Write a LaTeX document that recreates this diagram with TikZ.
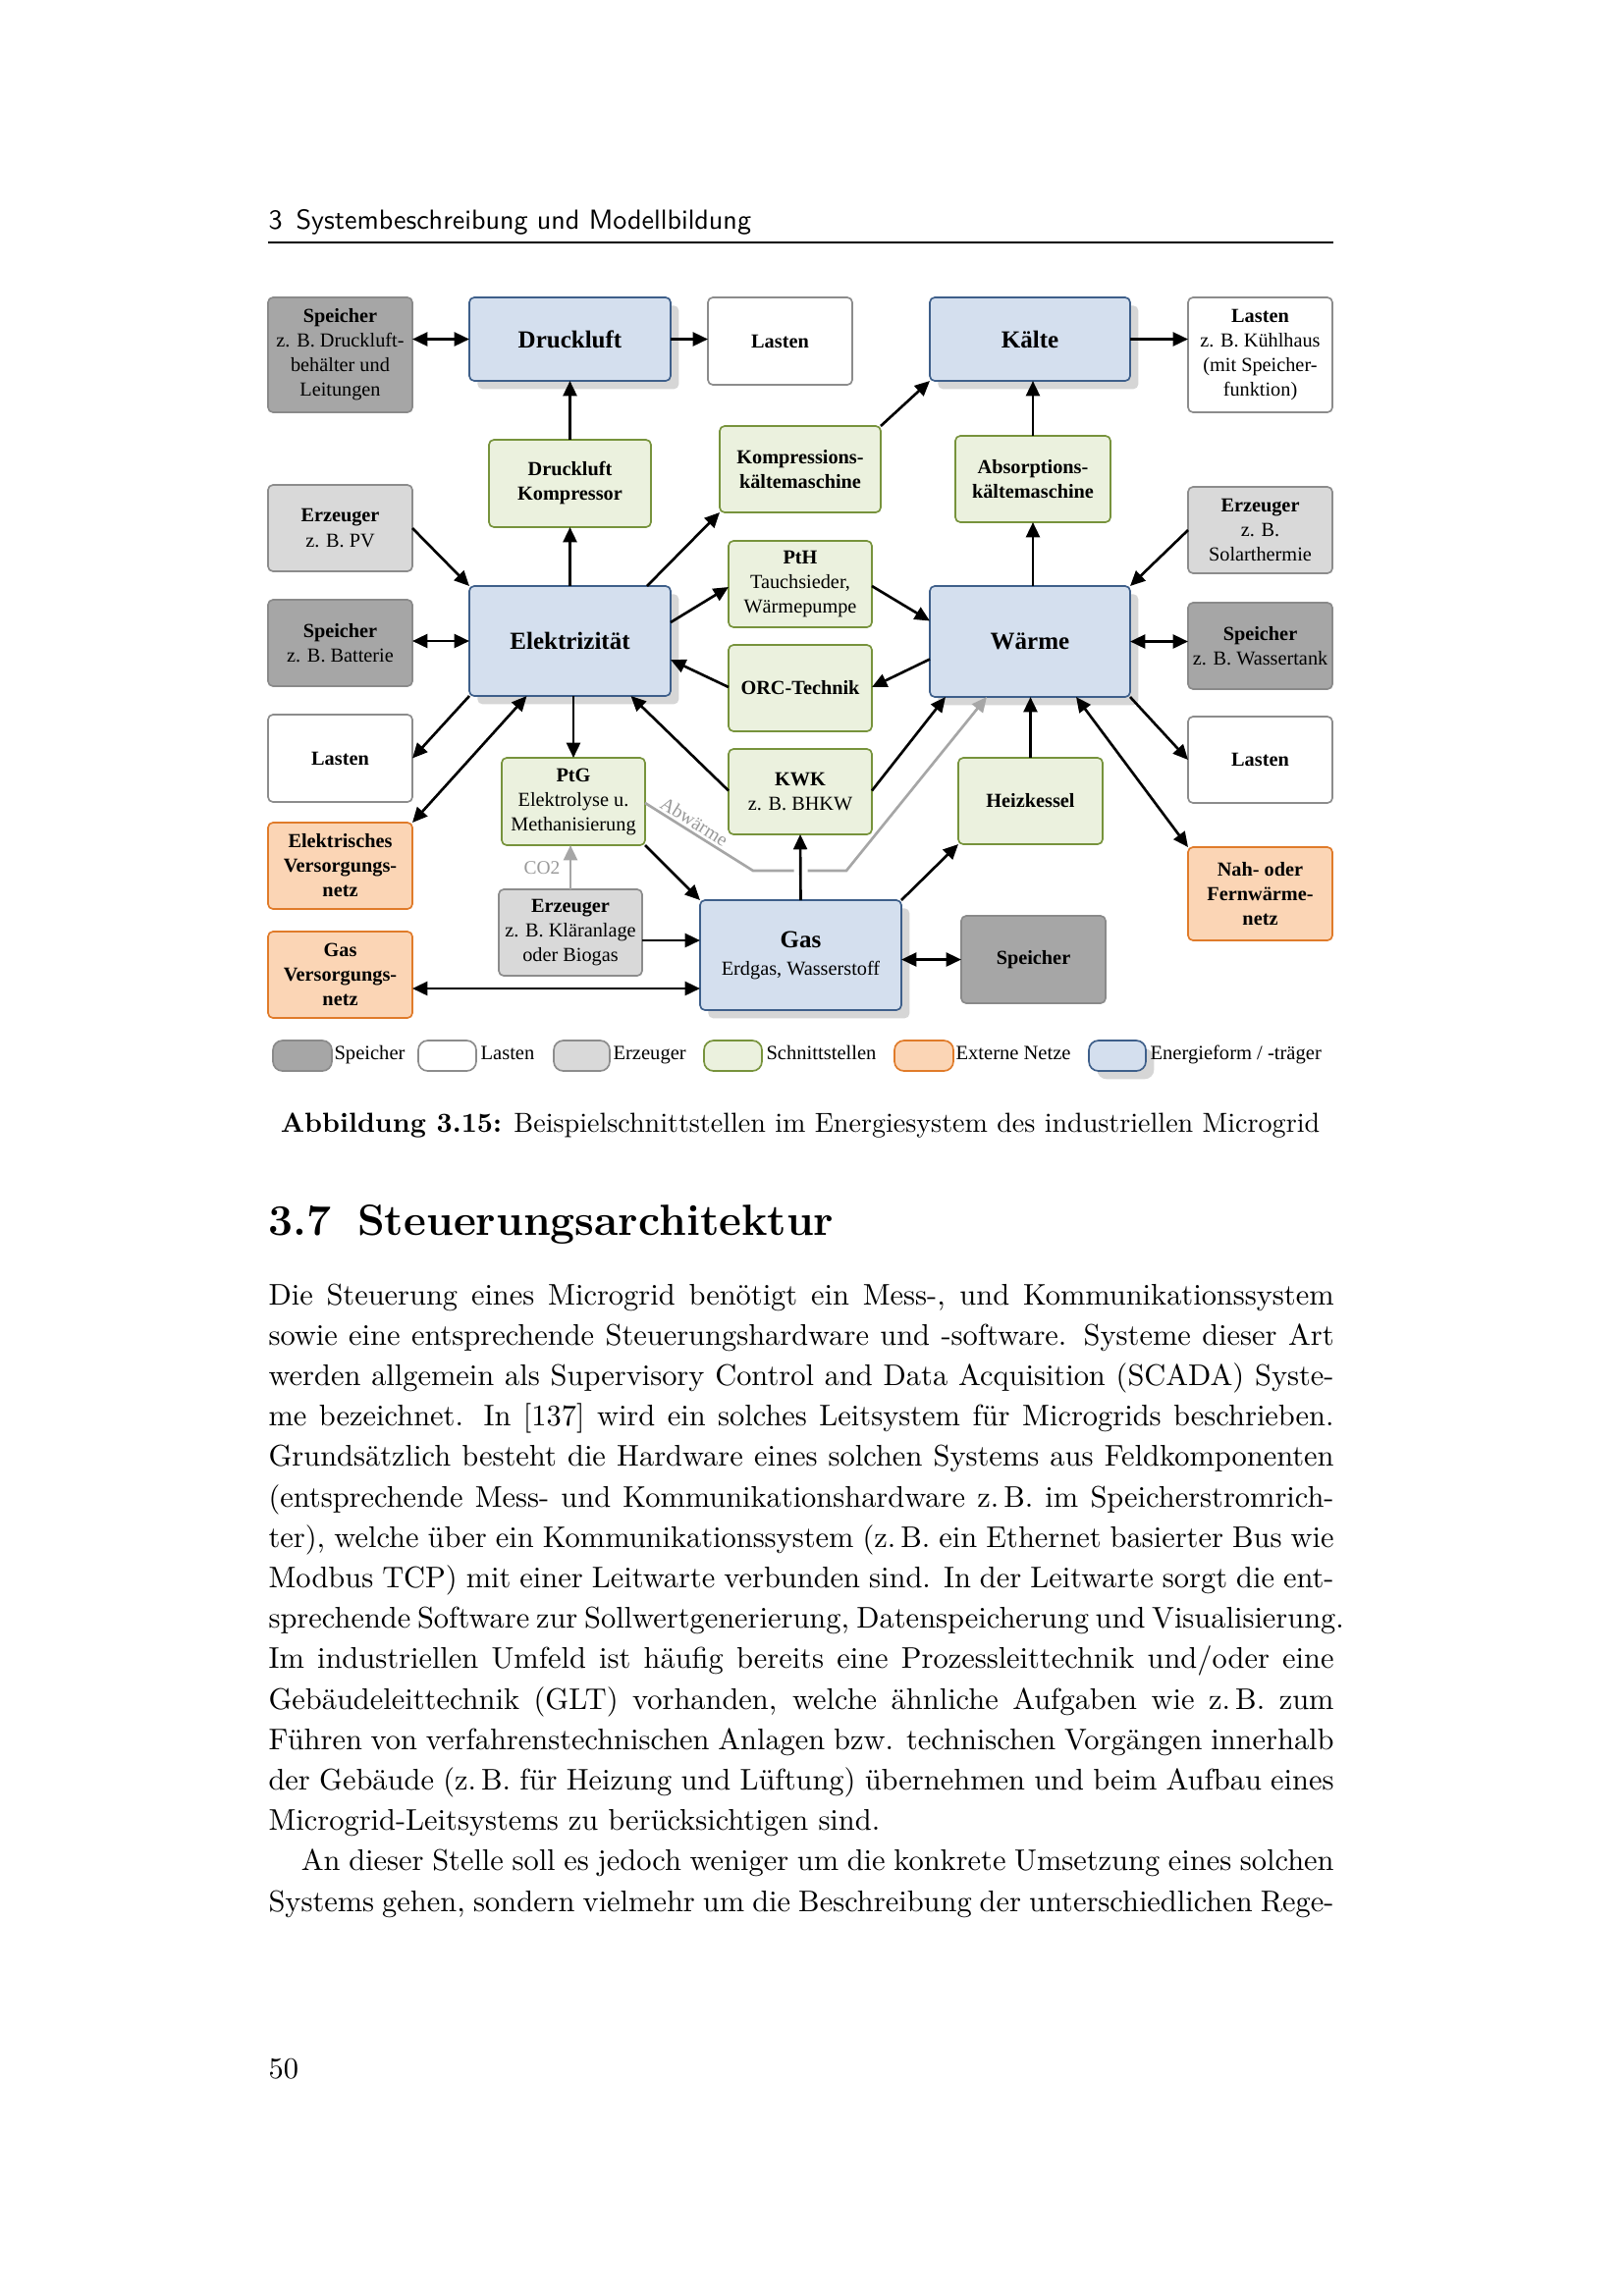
\documentclass[tikz,border=0pt]{standalone}
\usepackage{fontspec}
\newfontfamily\tnr{Liberation Serif}
\usetikzlibrary{arrows.meta,calc,shadows}
\definecolor{spfill}{HTML}{A6A6A6}
\definecolor{spdraw}{HTML}{8A8A8A}
\definecolor{erfill}{HTML}{D9D9D9}
\definecolor{erdraw}{HTML}{8C8C8C}
\definecolor{ladraw}{HTML}{8C8C8C}
\definecolor{scfill}{HTML}{EBF1DE}
\definecolor{scdraw}{HTML}{77933C}
\definecolor{exfill}{HTML}{FBD5B5}
\definecolor{exdraw}{HTML}{E07B2A}
\definecolor{enfill}{HTML}{D4DFEE}
\definecolor{endraw}{HTML}{3E5F8A}
\definecolor{shgray}{HTML}{D6D6D6}
\definecolor{garrow}{HTML}{A6A6A6}
\definecolor{glabel}{HTML}{999999}
\newcommand\nodebox[7]{\node[#6, minimum width={(#4-#2)*0.3599pt}, minimum height={(#5-#3)*0.3599pt}] (#1) at ({(#2+#4)/2},{(#3+#5)/2}) {#7};}
\tikzset{
  box/.style={rounded corners=1.8pt, draw, line width=0.6pt, align=center, inner sep=0pt, outer sep=0pt, font=\tnr\fontsize{7.3}{9}\selectfont},
  speicher/.style={box, fill=spfill, draw=spdraw},
  last/.style={box, fill=white, draw=ladraw},
  erz/.style={box, fill=erfill, draw=erdraw},
  schnitt/.style={box, fill=scfill, draw=scdraw},
  extern/.style={box, fill=exfill, draw=exdraw},
  energie/.style={box, fill=enfill, draw=endraw, font=\tnr\bfseries\fontsize{9}{11}\selectfont, drop shadow={fill=shgray, opacity=1, shadow xshift=3pt, shadow yshift=-3pt}},
  legend/.style={rounded corners=3.5pt},
  legtext/.style={anchor=base west, inner sep=0pt, font=\tnr\fontsize{7.4}{9}\selectfont},
  arr/.style={-{Triangle[length=5.5pt,width=5pt]}, line width=0.95pt},
  darr/.style={{Triangle[length=5.5pt,width=5pt]}-{Triangle[length=5.5pt,width=5pt]}, line width=0.95pt},
  gline/.style={line width=0.95pt, draw=garrow},
  garr/.style={arr, draw=garrow},
  graylabel/.style={inner sep=0pt, text=glabel, font=\tnr\fontsize{7}{8}\selectfont},
  bodytext/.style={anchor=base west, inner sep=0pt, font=\fontsize{10.95}{14.9}\selectfont},
}
\begin{document}
\begin{tikzpicture}[x=0.3599pt, y=-0.3599pt]
\useasboundingbox (0,0) rectangle (1654,2339);
\fill[white] (0,0) rectangle (1654,2339);

% running head
\node[anchor=base west, inner sep=0pt, font=\sffamily\fontsize{10.1}{12}\selectfont] (head) at (273,233) {3\hspace{0.5em}Systembeschreibung und Modellbildung};
\draw[line width=0.6pt] (273,247) -- (1358,247);

% boxes
\nodebox{spd}{273}{303}{420}{420}{speicher}{\textbf{Speicher}\\z. B. Druckluft-\\behälter und\\Leitungen}
\nodebox{dl}{478}{303}{683}{388}{energie}{Druckluft}
\nodebox{lt}{721}{303}{868}{392}{last}{\textbf{Lasten}}
\nodebox{kae}{947}{303}{1151}{388}{energie}{Kälte}
\nodebox{lkh}{1210}{303}{1357}{420}{last}{\textbf{Lasten}\\z. B. Kühlhaus\\(mit Speicher-\\funktion)}
\nodebox{dk}{498}{448}{663}{537}{schnitt}{\textbf{Druckluft}\\\textbf{Kompressor}}
\nodebox{kkm}{733}{434}{897}{522}{schnitt}{\textbf{Kompressions-}\\\textbf{kältemaschine}}
\nodebox{akm}{973}{444}{1131}{532}{schnitt}{\textbf{Absorptions-}\\\textbf{kältemaschine}}
\nodebox{epv}{273}{494}{420}{582}{erz}{\textbf{Erzeuger}\\z. B. PV}
\nodebox{est}{1210}{496}{1357}{584}{erz}{\textbf{Erzeuger}\\z. B.\\Solarthermie}
\nodebox{pth}{742}{551}{888}{639}{schnitt}{\textbf{PtH}\\Tauchsieder,\\Wärmepumpe}
\nodebox{el}{478}{597}{683}{709}{energie}{Elektrizität}
\nodebox{wa}{947}{597}{1151}{710}{energie}{Wärme}
\nodebox{spb}{273}{611}{420}{699}{speicher}{\textbf{Speicher}\\z. B. Batterie}
\nodebox{spw}{1210}{614}{1357}{702}{speicher}{\textbf{Speicher}\\z. B. Wassertank}
\nodebox{orc}{742}{657}{888}{745}{schnitt}{\textbf{ORC-Technik}}
\nodebox{ll}{273}{728}{420}{817}{last}{\textbf{Lasten}}
\nodebox{lr}{1210}{730}{1357}{818}{last}{\textbf{Lasten}}
\nodebox{kwk}{742}{763}{888}{850}{schnitt}{\textbf{KWK}\\z. B. BHKW}
\nodebox{ptg}{511}{772}{657}{861}{schnitt}{\textbf{PtG}\\Elektrolyse u.\\Methanisierung}
\nodebox{hk}{976}{772}{1123}{860}{schnitt}{\textbf{Heizkessel}}
\nodebox{ev}{273}{838}{420}{926}{extern}{\textbf{Elektrisches}\\\textbf{Versorgungs-}\\\textbf{netz}}
\nodebox{nf}{1210}{863}{1357}{958}{extern}{\textbf{Nah- oder}\\\textbf{Fernwärme-}\\\textbf{netz}}
\nodebox{ek}{508}{906}{654}{994}{erz}{\textbf{Erzeuger}\\z. B. Kläranlage\\oder Biogas}
\nodebox{gas}{713}{917}{918}{1029}{energie}{Gas\\[-1pt]{\mdseries\fontsize{7.3}{9}\selectfont Erdgas, Wasserstoff}}
\nodebox{spg}{979}{933}{1126}{1022}{speicher}{\textbf{Speicher}}
\nodebox{gv}{273}{949}{420}{1037}{extern}{\textbf{Gas}\\\textbf{Versorgungs-}\\\textbf{netz}}

% connectors
\draw[darr] (spd.east |- dl.west) -- (dl.west);
\draw[arr] (dl.east) -- (lt.west |- dl.east);
\draw[arr] (dk.north) -- (dl.south);
\draw[arr] (el.north) -- (dk.south);
\draw[arr] (epv.east) -- (el.north west);
\draw[darr] (spb.east |- el.west) -- (el.west);
\draw[arr] ($(el.north east)+(-24,0)$) -- (kkm.south west);
\draw[arr] ($(el.east)+(0,-19)$) -- ($(pth.west)+(0,3)$);
\draw[arr] ($(orc.west)+(0,-1)$) -- ($(el.east)+(0,19)$);
\draw[arr] ($(pth.east)+(0,2)$) -- ($(wa.west)+(0,-21)$);
\draw[arr] ($(wa.west)+(0,18)$) -- ($(orc.east)+(0,-1)$);
\draw[arr] (kkm.north east) -- (kae.south west);
\draw[arr] (akm.north) -- (akm.north |- kae.south);
\draw[arr] (wa.north -| akm.south) -- (akm.south);
\draw[arr] (kae.east) -- (lkh.west |- kae.east);
\draw[arr] (est.west) -- (wa.north east);
\draw[darr] (wa.east) -- (spw.west |- wa.east);
\draw[arr] (el.south west) -- (ll.east);
\draw[darr] (ev.north east) -- ($(el.south)+(-44,0)$);
\draw[arr] (ptg.north |- el.south) -- (ptg.north);
\draw[arr] ($(kwk.west)+(0,-1)$) -- ($(el.south)+(62,0)$);
\draw[arr] (ptg.south east) -- (gas.north west);
\coordinate (ekout) at ($(ek.east)+(0,8)$);
\draw[arr] (ekout) -- (gas.west |- ekout);
\coordinate (gvout) at ($(gv.east)+(0,14)$);
\draw[darr] (gvout) -- (gas.west |- gvout);
\draw[garr] (ek.north) -- (ek.north |- ptg.south);
\node[graylabel] (co2) at ($(ek.north)+(-29,-22)$) {CO2};
% Abwaerme line
\coordinate (a1) at ($(ptg.east)+(0,1.5)$);
\coordinate (a2) at (767,887);
\coordinate (a5) at (862,887);
\coordinate (a6) at ($(wa.south)+(-44,0)$);
\draw[gline] (a1) -- (a2) -- ($(gas.north |- a2)+(-7,0)$);
\draw[garr] ($(gas.north |- a2)+(7,0)$) -- (a5) -- (a6);
\node[graylabel, rotate=-32] (abw) at ($(a1)!0.42!(a2)+(4,-10)$) {Abwärme};
\draw[arr] (gas.north) -- (kwk.south);
\draw[arr] ($(kwk.east)+(0,-1)$) -- ($(wa.south west)+(16,0)$);
\draw[arr] (gas.north east) -- (hk.south west);
\draw[arr] (hk.north) -- (hk.north |- wa.south);
\draw[darr] ($(wa.south)+(47,0)$) -- (nf.north west);
\draw[arr] (wa.south east) -- (lr.west);
\draw[darr] (gas.east |- spg.west) -- (spg.west);

% legend
\nodebox{lg1}{278}{1060}{338}{1091}{speicher,legend}{}
\node[legtext] (lt1) at (340,1079) {Speicher};
\nodebox{lg2}{426}{1060}{485}{1091}{last,legend}{}
\node[legtext] (lt2) at (489,1079) {Lasten};
\nodebox{lg3}{564}{1060}{621}{1091}{erz,legend}{}
\node[legtext] (lt3) at (624,1079) {Erzeuger};
\nodebox{lg4}{717}{1060}{776}{1091}{schnitt,legend}{}
\node[legtext] (lt4) at (780,1079) {Schnittstellen};
\nodebox{lg5}{911}{1060}{971}{1091}{extern,legend}{}
\node[legtext] (lt5) at (973,1079) {Externe Netze};
\nodebox{lg6}{1109}{1060}{1167}{1091}{energie,legend}{}
\node[legtext] (lt6) at (1171,1079) {Energieform / -träger};

% caption
\node[anchor=base, inner sep=0pt, font=\fontsize{10.1}{12}\selectfont] (cap) at (815,1153) {\textbf{Abbildung 3.15:} Beispielschnittstellen im Energiesystem des industriellen Microgrid};

% section
\node[anchor=base west, inner sep=0pt, font=\fontsize{16}{19}\selectfont\bfseries] (sec) at (273,1258) {3.7\hspace{0.6em}Steuerungsarchitektur};

% body text
\node[bodytext] (b1) at (273,1329.0) {\hbox to 390.5pt{Die Steuerung eines Microgrid benötigt ein Mess-, und Kommunikationssystem}};
\node[bodytext] (b2) at (273,1370.2) {\hbox to 390.5pt{sowie eine entsprechende Steuerungshardware und -software. Systeme dieser Art}};
\node[bodytext] (b3) at (273,1411.4) {\hbox to 390.5pt{werden allgemein als Supervisory Control and Data Acquisition (SCADA) Syste-}};
\node[bodytext] (b4) at (273,1452.6) {\hbox to 390.5pt{me bezeichnet. In [137] wird ein solches Leitsystem für Microgrids beschrieben.}};
\node[bodytext] (b5) at (273,1493.8) {\hbox to 390.5pt{Grundsätzlich besteht die Hardware eines solchen Systems aus Feldkomponenten}};
\node[bodytext] (b6) at (273,1535.0) {\hbox to 390.5pt{(entsprechende Mess- und Kommunikationshardware z.\,B. im Speicherstromrich-}};
\node[bodytext] (b7) at (273,1576.2) {\hbox to 390.5pt{ter), welche über ein Kommunikationssystem (z.\,B. ein Ethernet basierter Bus wie}};
\node[bodytext] (b8) at (273,1617.4) {\hbox to 390.5pt{Modbus TCP) mit einer Leitwarte verbunden sind. In der Leitwarte sorgt die ent-}};
\node[bodytext] (b9) at (273,1658.6) {\hbox to 390.5pt{sprechende Software zur Sollwertgenerierung, Datenspeicherung und Visualisierung.}};
\node[bodytext] (b10) at (273,1699.8) {\hbox to 390.5pt{Im industriellen Umfeld ist häufig bereits eine Prozessleittechnik und/oder eine}};
\node[bodytext] (b11) at (273,1741.0) {\hbox to 390.5pt{Gebäudeleittechnik (GLT) vorhanden, welche ähnliche Aufgaben wie z.\,B. zum}};
\node[bodytext] (b12) at (273,1782.2) {\hbox to 390.5pt{Führen von verfahrenstechnischen Anlagen bzw. technischen Vorgängen innerhalb}};
\node[bodytext] (b13) at (273,1823.4) {\hbox to 390.5pt{der Gebäude (z.\,B. für Heizung und Lüftung) übernehmen und beim Aufbau eines}};
\node[bodytext] (b14) at (273,1864.6) {Microgrid-Leitsystems zu berücksichtigen sind.};
\node[bodytext] (b15) at (273,1905.8) {\hbox to 390.5pt{\hskip 12pt An dieser Stelle soll es jedoch weniger um die konkrete Umsetzung eines solchen}};
\node[bodytext] (b16) at (273,1947.0) {\hbox to 390.5pt{Systems gehen, sondern vielmehr um die Beschreibung der unterschiedlichen Rege-}};

% page number
\node[bodytext] (pg) at (273,2117) {50};
\end{tikzpicture}
\end{document}
